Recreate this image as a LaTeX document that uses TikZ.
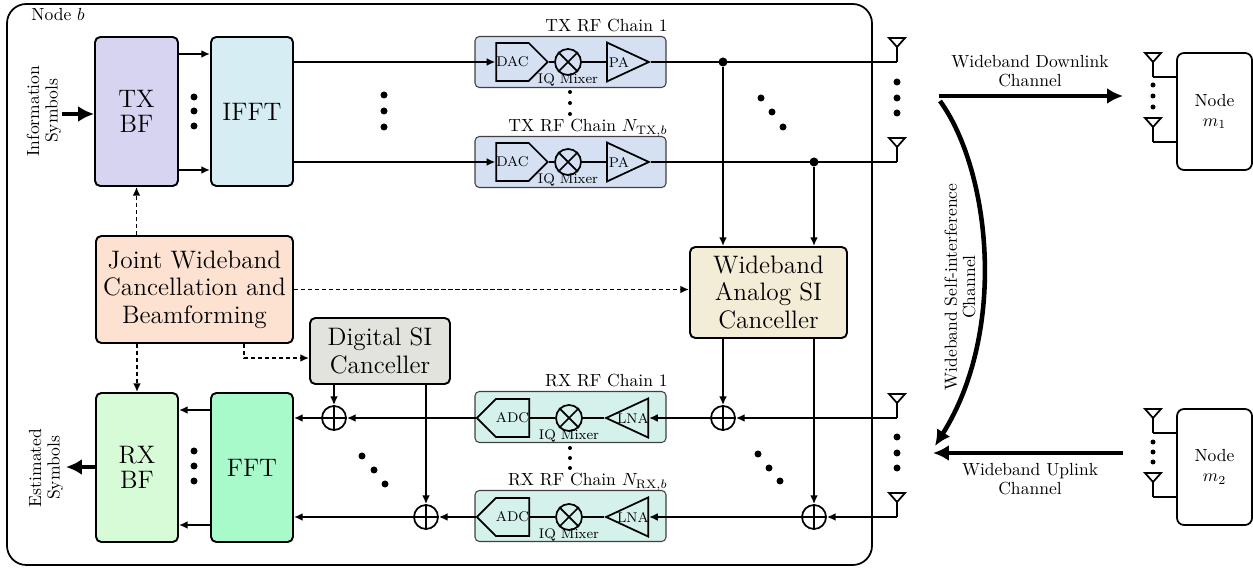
\documentclass[tikz,border=0pt]{standalone}
\usepackage{amsmath}
\usepackage{amssymb}
\usepackage{tikz}
\usetikzlibrary{arrows.meta,shapes.geometric,shapes.symbols}

\def\px{0.57pt}
\definecolor{txbfcol}{HTML}{D6D4F0}
\definecolor{ifftcol}{HTML}{D5EDF3}
\definecolor{jointcol}{HTML}{FDE1D1}
\definecolor{digcol}{HTML}{E3E3DD}
\definecolor{anacol}{HTML}{F3ECD6}
\definecolor{rxbfcol}{HTML}{D6FBD6}
\definecolor{fftcol}{HTML}{A9FACB}
\definecolor{txrfcol}{HTML}{D5E1F3}
\definecolor{rxrfcol}{HTML}{D5F1EC}

\tikzset{
	blk/.style={draw, line width=1.1pt, rounded corners=3pt, align=center, inner sep=0pt, font=\fontsize{14.4}{15.6}\selectfont},
	chainbox/.style={draw=black!75, line width=0.6pt, rounded corners=2.5pt, minimum width=191*\px, minimum height=51*\px, inner sep=0pt},
	conv/.style={signal, draw, line width=1pt, signal pointer angle=90, minimum width=41*\px, minimum height=38*\px, inner sep=0pt, font=\footnotesize},
	mixer/.style={circle, draw, line width=1pt, minimum size=26*\px, inner sep=0pt},
	amp/.style={isosceles triangle, isosceles triangle stretches, draw, line width=1pt, minimum width=39*\px, minimum height=42*\px, inner sep=0pt},
	adder/.style={circle, draw, line width=1pt, minimum size=24*\px, inner sep=0pt},
	ln/.style={line width=1pt},
	arr/.style={line width=1pt, -{Latex[length=5pt,width=4.5pt]}},
	darr/.style={arr, dash pattern=on 2.5pt off 1.5pt},
	bigarr/.style={line width=2.6pt, -{Latex[length=9pt,width=9pt]}},
	junc/.style={circle, fill, inner sep=0pt, minimum size=9*\px},
	smalltxt/.style={font=\footnotesize, inner sep=0pt},
	twoline/.style={align=center, inner sep=0pt, font=\fontsize{10}{10.5}\selectfont},
	pics/antenna/.style={code={
		\draw[line width=1pt] (0,-15) -- (0,0);
		\draw[line width=1pt, fill=white] (-8,-24) -- (8,-24) -- (0,-15) -- cycle;
	}}
}

\begin{document}
\begin{tikzpicture}[x=0.57pt, y=-0.57pt]
	\useasboundingbox (0,0) rectangle (1253,568);

	% node b
	\node[draw, line width=1pt, rounded corners=11pt, minimum width=865*\px, minimum height=561*\px] (nodeb) at (439.5,284.5) {};
	\node[anchor=west, inner sep=0pt] (nodebtxt) at (31,15) {Node $b$};

	% baseband blocks
	\node[blk, fill=txbfcol, minimum width=83*\px, minimum height=149*\px] (txbf) at (136.5,111.5) {TX\\[-1.5pt]BF};
	\node[blk, fill=ifftcol, minimum width=82*\px, minimum height=149*\px] (ifft) at (252,111.5) {IFFT};
	\node[blk, fill=jointcol, minimum width=197*\px, minimum height=107*\px] (joint) at (194.5,289.5) {Joint Wideband\\Cancellation and\\Beamforming};
	\node[blk, fill=rxbfcol, minimum width=82*\px, minimum height=149*\px] (rxbf) at (137,467.5) {RX\\[-1.5pt]BF};
	\node[blk, fill=fftcol, minimum width=82*\px, minimum height=149*\px] (fft) at (252,467.5) {FFT};
	\node[blk, fill=digcol, minimum width=140*\px, minimum height=66*\px] (digital) at (380,351) {Digital SI\\Canceller};
	\node[blk, fill=anacol, minimum width=157*\px, minimum height=91*\px] (analog) at (768.5,292.5) {Wideband\\Analog SI\\Canceller};

	% inputs and outputs
	\node[twoline, rotate=90] (infotxt) at (44,111) {Information\\Symbols};
	\coordinate (info) at (62,114);
	\draw[bigarr] (info) -- (info -| txbf.west);
	\node[twoline, rotate=90] (esttxt) at (46,468) {Estimated\\Symbols};
	\coordinate (est) at (66,467);
	\draw[bigarr] (rxbf.west |- est) -- (est);

	% TX chains
	\foreach \n/\y/\t in {1/62/{1}, n/162/{$N_{\mathrm{TX},b}$}}{
		\node[chainbox, fill=txrfcol] (tx\n) at (570.5,\y) {};
		\node[anchor=base east, inner sep=0pt] (txt\n) at (668,\y-30) {TX RF Chain \t};
		\node[conv, signal to=east] (dac\n) at (512.5,\y) {DAC};
		\node[mixer] (mix\n) at (568,\y) {};
		\draw[ln] (mix\n.north west) -- (mix\n.south east) (mix\n.north east) -- (mix\n.south west);
		\node[smalltxt, anchor=north] (iq\n) at ([yshift=1.5pt]mix\n.south) {IQ Mixer};
		\node[amp, anchor=lower side] (pa\n) at (606,\y) {};
		\node[smalltxt] (pat\n) at (619,\y) {PA};
		\draw[arr] (ifft.east |- dac\n.west) -- (dac\n.west);
		\draw[ln] (dac\n.east) -- (mix\n.west) (mix\n.east) -- (pa\n.lower side);
		\coordinate (antt\n) at (897,\y);
		\draw[ln] (pa\n.apex) -- (antt\n);
		\pic at (antt\n) {antenna};
	}

	% RX chains
	\foreach \n/\y/\t in {1/418/{1}, n/517/{$N_{\mathrm{RX},b}$}}{
		\node[chainbox, fill=rxrfcol] (rx\n) at (570.5,\y-1) {};
		\node[anchor=base east, inner sep=0pt] (rxt\n) at (668,\y-31) {RX RF Chain \t};
		\node[conv, signal to=west] (adc\n) at (512.5,\y) {ADC};
		\node[mixer] (mixr\n) at (569,\y) {};
		\draw[ln] (mixr\n.north west) -- (mixr\n.south east) (mixr\n.north east) -- (mixr\n.south west);
		\node[smalltxt, anchor=north] (iqr\n) at ([yshift=1.5pt]mixr\n.south) {IQ Mixer};
		\node[amp, shape border rotate=180, anchor=lower side] (lna\n) at (649,\y) {};
		\node[smalltxt] (lnat\n) at (633,\y) {LNA};
		\draw[ln] (lna\n.apex) -- (mixr\n.east) (mixr\n.west) -- (adc\n.east);
		\coordinate (antr\n) at (897,\y);
		\pic at (antr\n) {antenna};
	}

	% adders
	\foreach \a/\x/\y in {al1/334/418, aln/426/517, ar1/723/418, arn/814/517}{
		\node[adder] (\a) at (\x,\y) {};
		\draw[ln] (\a.north) -- (\a.south) (\a.east) -- (\a.west);
	}

	% TX BF -> IFFT, FFT -> RX BF
	\draw[arr] (txbf.east |- 0,54) -- (ifft.west |- 0,54);
	\draw[arr] (txbf.east |- 0,170) -- (ifft.west |- 0,170);
	\draw[arr] (fft.west |- 0,410) -- (rxbf.east |- 0,410);
	\draw[arr] (fft.west |- 0,525) -- (rxbf.east |- 0,525);

	% analog SI path
	\node[junc] (j1) at (723,62) {};
	\node[junc] (jn) at (814,162) {};
	\draw[arr] (j1) -- (j1 |- analog.north);
	\draw[arr] (jn) -- (jn |- analog.north);
	\draw[arr] (analog.south -| ar1) -- (ar1.north);
	\draw[arr] (analog.south -| arn) -- (arn.north);

	% RX signal path
	\draw[arr] (antr1) -- (ar1.east);
	\draw[arr] (antrn) -- (arn.east);
	\draw[arr] (ar1.west) -- (lna1.lower side);
	\draw[arr] (arn.west) -- (lnan.lower side);
	\draw[arr] (adc1.west) -- (al1.east);
	\draw[arr] (adcn.west) -- (aln.east);
	\draw[arr] (al1.west) -- (al1 -| fft.east);
	\draw[arr] (aln.west) -- (aln -| fft.east);
	\draw[arr] (digital.south -| al1) -- (al1.north);
	\draw[arr] (digital.south -| aln) -- (aln.north);

	% control
	\draw[darr] (joint.north -| txbf) -- (txbf.south);
	\draw[darr] (joint.south -| rxbf) -- (rxbf.north);
	\draw[darr] (joint.east) -- (joint.east -| analog.west);
	\draw[darr] (joint.south -| 244,0) |- ([yshift=-4pt]digital.west);

	% dots
	\foreach \y in {97,111,126} \fill (194,\y) circle (3.5);
	\foreach \y in {95,111,127} \fill (384,\y) circle (3.5);
	\foreach \y in {92,103,114} \fill (570,\y) circle (2);
	\foreach \x/\y in {761/98, 772/112, 783/127} \fill (\x,\y) circle (3.5);
	\foreach \y in {82,98,113} \fill (897,\y) circle (3.5);
	\foreach \y in {451,466,481} \fill (194,\y) circle (3.5);
	\foreach \x/\y in {362/456, 374/470, 385/484} \fill (\x,\y) circle (3.5);
	\foreach \y in {448,458,468} \fill (570,\y) circle (2);
	\foreach \x/\y in {758/454, 769/468, 780/481} \fill (\x,\y) circle (3.5);
	\foreach \y in {437,453,468} \fill (897,\y) circle (3.5);

	% users
	\node[draw, line width=1pt, rounded corners=4pt, minimum width=75*\px, minimum height=117*\px, align=center, font=\fontsize{10}{11.5}\selectfont] (m1) at (1214.5,111.5) {Node\\$m_1$};
	\node[draw, line width=1pt, rounded corners=4pt, minimum width=75*\px, minimum height=116*\px, align=center, font=\fontsize{10}{11.5}\selectfont] (m2) at (1214.5,467) {Node\\$m_2$};
	\foreach \a/\y in {am11/77, am12/142, am21/433, am22/497}{
		\coordinate (\a) at (1153,\y);
		\draw[ln] (\a) -- (\a -| m1.west);
		\pic at (\a) {antenna};
	}
	\foreach \y in {85,96,107} \fill (1153,\y) circle (2.5);
	\foreach \y in {442,452,462} \fill (1153,\y) circle (2.5);

	% channels
	\coordinate (dls) at (939,96);
	\coordinate (dle) at (1123,96);
	\draw[bigarr] (dls) -- (dle);
	\node[twoline] (dltxt) at (1030,71) {Wideband Downlink\\Channel};
	\coordinate (uls) at (1123,453);
	\coordinate (ule) at (933,453);
	\draw[bigarr] (uls) -- (ule);
	\node[twoline] (ultxt) at (1030,479) {Wideband Uplink\\Channel};
	\coordinate (sis) at (940,101);
	\coordinate (sie) at (935,446);
	\draw[bigarr] (sis) .. controls (990,170) and (1008,330) .. (sie);
	\node[twoline, rotate=90] (sitxt) at (960,287) {Wideband Self-interference\\Channel};
\end{tikzpicture}
\end{document}
